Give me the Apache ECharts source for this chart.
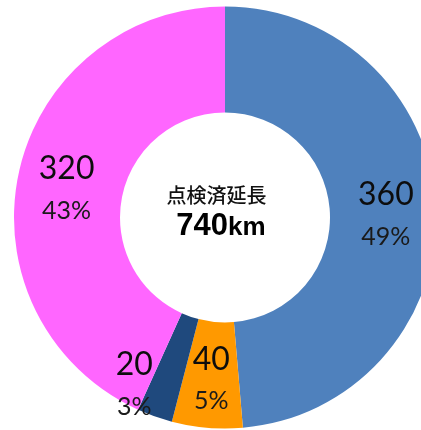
<!DOCTYPE html>
<html>
<head>
<meta charset="utf-8">
<script src="https://cdn.jsdelivr.net/npm/echarts@6/dist/echarts.min.js"></script>
<style>
  html, body { margin: 0; padding: 0; background: #ffffff; }
  #chart { width: 421px; height: 430px; }
</style>
</head>
<body>
<div id="chart"></div>
<script>
// Inspected length (km) by category, drawn clockwise from 12 o'clock
const categories = ['A', 'B', 'C', 'D'];
const lengths = [360, 40, 20, 320];
const sliceColors = ['#4F81BD', '#FF9900', '#1F497D', '#FF66FF'];
const centerTitle = '点検済延長';
const unit = 'km';

const total = lengths.reduce((s, v) => s + v, 0);

// small nudges so each label block sits where it reads best inside its slice
const labelNudges = [[0, 3], [0, 0], [-37, 14], [-1, 4]];

const pieData = categories.map((name, i) => ({
  name: name,
  value: lengths[i],
  itemStyle: { color: sliceColors[i] },
  label: { offset: labelNudges[i] }
}));

const chart = echarts.init(document.getElementById('chart'), null, { renderer: 'canvas' });

chart.setOption({
  animation: false,
  backgroundColor: '#ffffff',
  series: [{
    type: 'pie',
    center: [225, 217.5],
    radius: [105, 211],
    startAngle: 90,
    clockwise: true,
    avoidLabelOverlap: false,
    itemStyle: { borderWidth: 0 },
    emphasis: { disabled: true },
    label: {
      show: true,
      position: 'inside',
      padding: [7, 0, 0, 0],
      formatter: p => '{v|' + p.value + '}\n{p|' + Math.round(p.value / total * 100) + '%}',
      rich: {
        v: { fontFamily: 'Lato', fontSize: 32, color: '#0d0d0d', lineHeight: 40, align: 'center' },
        p: { fontFamily: 'Lato', fontSize: 25, color: '#1a1a1a', lineHeight: 44, align: 'center' }
      }
    },
    labelLine: { show: false },
    data: pieData
  }],
  graphic: [
    {
      type: 'text',
      silent: true,
      style: {
        x: 216.5, y: 195.5,
        text: centerTitle,
        align: 'center', verticalAlign: 'middle',
        fontFamily: '"Noto Sans CJK JP"', fontWeight: 500, fontSize: 20, fill: '#111111'
      }
    },
    {
      type: 'text',
      silent: true,
      style: {
        x: 221, y: 226,
        text: '{n|' + total + '}{u|' + unit + '}',
        align: 'center', verticalAlign: 'middle',
        rich: {
          n: { fontFamily: '"Liberation Sans"', fontWeight: 'bold', fontSize: 31, fill: '#000000', lineHeight: 34 },
          u: { fontFamily: '"Liberation Sans"', fontWeight: 'bold', fontSize: 26, fill: '#000000', lineHeight: 34, padding: [3, 0, 0, 0] }
        }
      }
    }
  ]
});
</script>
</body>
</html>
